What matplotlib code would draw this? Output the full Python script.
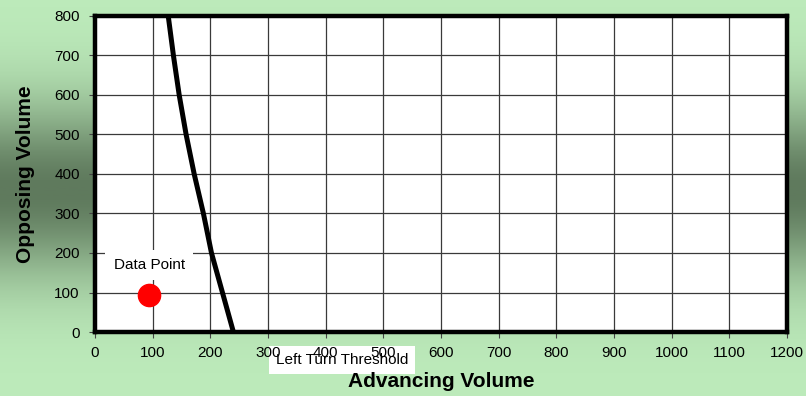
#!/usr/bin/env python

"""Left turn threshold chart: advancing vs opposing volume."""

import matplotlib

matplotlib.use("Agg")
import matplotlib.pyplot as plt
import numpy as np
from matplotlib.colors import LinearSegmentedColormap

plt.rcParams["font.family"] = ["Liberation Sans", "DejaVu Sans"]

# threshold curve
threshold_opposing = [0, 100, 200, 300, 400, 500, 600, 700, 800]
threshold_advancing = [240, 221, 202, 188, 172, 158, 146, 136, 127]

point_advancing = [94]
point_opposing = [94]

x_ticks = list(range(0, 1201, 100))
y_ticks = list(range(0, 801, 100))


def main() -> None:
    fig = plt.figure(figsize=(8.06, 3.96), dpi=100)

    # green background, light at top and bottom, darker in the middle
    bg = fig.add_axes([0, 0, 1, 1], zorder=-1)
    t = np.linspace(0, 1, 400)
    shade = np.exp(-(((t - 0.48) / 0.22) ** 2))
    cmap = LinearSegmentedColormap.from_list("bg", ["#bdebbb", "#5f7a5d"])
    bg.imshow(shade[:, None], cmap=cmap, aspect="auto", vmin=0, vmax=1,
              extent=[0, 1, 0, 1])
    bg.set_axis_off()

    ax = fig.add_axes([95 / 806, 64 / 396, 692 / 806, 316 / 396])
    ax.set_facecolor("white")
    ax.set_xlim(0, 1200)
    ax.set_ylim(0, 800)
    ax.set_xticks(x_ticks)
    ax.set_yticks(y_ticks)
    ax.grid(True, color="#3a3a3a", linewidth=0.9)
    ax.set_axisbelow(True)
    for spine in ax.spines.values():
        spine.set_linewidth(3.2)
        spine.set_color("black")
    ax.tick_params(length=4, width=0.8, labelsize=11, color="#444")
    ax.tick_params(axis="x", pad=6)
    ax.tick_params(axis="y", pad=7)

    ax.plot(threshold_advancing, threshold_opposing, color="black",
            linewidth=3.6, solid_capstyle="butt")
    ax.plot(point_advancing, point_opposing, "o", color="red",
            markersize=16, zorder=5)
    ax.annotate("Data Point", (point_advancing[0], point_opposing[0]),
                xytext=(0, 21.5), textcoords="offset points",
                ha="center", va="center", fontsize=11,
                bbox=dict(boxstyle="square,pad=0.55", fc="white", ec="none"),
                zorder=4)

    ax.set_xlabel("Advancing Volume", fontsize=15, fontweight="bold",
                  labelpad=9)
    ax.set_ylabel("Opposing Volume", fontsize=15, fontweight="bold",
                  labelpad=14)

    # box sits behind the tick labels, as in the original
    fig.text(276 / 806, 36 / 396, "Left Turn Threshold", fontsize=11,
             ha="left", va="center", zorder=-0.5,
             bbox=dict(boxstyle="square,pad=0.45", fc="white", ec="none"))

    fig.savefig("out.png", dpi=100)


if __name__ == "__main__":
    main()
